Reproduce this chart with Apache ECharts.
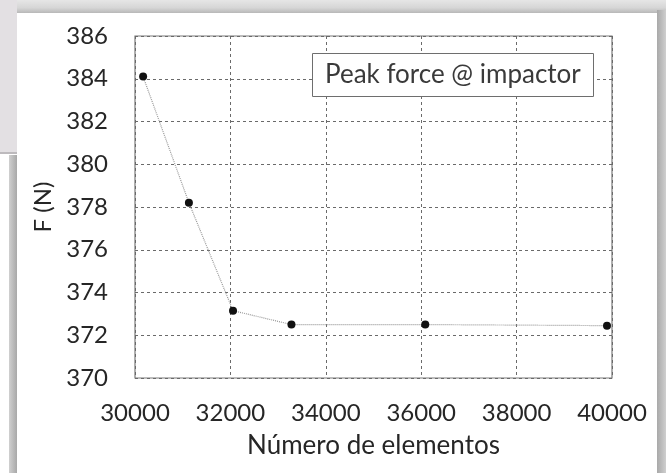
<!DOCTYPE html>
<html>
<head>
<meta charset="utf-8">
<script src="https://cdn.jsdelivr.net/npm/echarts@6/dist/echarts.min.js"></script>
<style>
  html, body { margin: 0; padding: 0; background: #fff; }
  #chart { width: 666px; height: 473px; }
</style>
</head>
<body>
<div id="chart"></div>
<script>
// Data
const elementCounts = [30170, 31130, 32055, 33280, 36085, 39895];
const peakForce = [384.1, 378.2, 373.15, 372.5, 372.5, 372.45];
const seriesName = 'Peak force @ impactor';
const xAxisTitle = 'Número de elementos';
const yAxisTitle = 'F (N)';

const FONT = 'Lato';
const TXT = '#262626';
const chart = echarts.init(document.getElementById('chart'), null, { renderer: 'canvas' });

const points = elementCounts.map((x, i) => [x, peakForce[i]]);

chart.setOption({
  backgroundColor: '#ffffff',
  animation: false,
  title: {
    text: seriesName,
    left: 312,
    top: 53,
    padding: [7, 13, 7, 13],
    borderColor: '#6e6e6e',
    borderWidth: 1,
    backgroundColor: '#ffffff',
    textStyle: { fontFamily: FONT, fontSize: 26, fontWeight: 'normal', color: '#3a3a3a', lineHeight: 30 }
  },
  graphic: [
    { type: 'rect', z: -10, shape: { x: 0, y: 0, width: 666, height: 13 },
      style: { fill: new echarts.graphic.LinearGradient(0, 0, 0, 1, [
        { offset: 0, color: '#e6e6e6' }, { offset: 0.6, color: '#d6d6d6' }, { offset: 1, color: '#b8b8b8' }]) } },
    { type: 'rect', z: -10, shape: { x: 0, y: 0, width: 17, height: 153 },
      style: { fill: '#e3e0e3' } },
    { type: 'rect', z: -10, shape: { x: 0, y: 152, width: 17, height: 2 },
      style: { fill: '#bdbabd' } },
    { type: 'rect', z: -10, shape: { x: 9, y: 155, width: 8, height: 318 },
      style: { fill: new echarts.graphic.LinearGradient(0, 0, 1, 0, [
        { offset: 0, color: '#d0d0d0' }, { offset: 1, color: '#a8a8a8' }]) } },
    { type: 'rect', z: -10, shape: { x: 657, y: 10, width: 9, height: 463 },
      style: { fill: new echarts.graphic.LinearGradient(0, 0, 1, 0, [
        { offset: 0, color: '#a9a9a9' }, { offset: 1, color: '#cfcfcf' }]) } }
  ],
  grid: {
    left: 135, right: 54, top: 36, bottom: 95,
    show: true,
    borderColor: '#7a7a7a',
    borderWidth: 1.2,
    backgroundColor: 'transparent'
  },
  xAxis: {
    type: 'value',
    min: 30000, max: 40000, interval: 2000,
    name: xAxisTitle,
    nameLocation: 'middle',
    nameGap: 55,
    nameTextStyle: { fontFamily: FONT, fontSize: 26, color: TXT },
    axisLine: { show: false },
    axisTick: { show: false },
    axisLabel: { fontFamily: FONT, fontSize: 24, color: TXT, margin: 23,
      formatter: v => String(v) },
    splitLine: { show: true, lineStyle: { color: '#6a6a6a', width: 1, type: [3, 3] } }
  },
  yAxis: {
    type: 'value',
    min: 370, max: 386, interval: 2,
    name: yAxisTitle,
    nameLocation: 'middle',
    nameGap: 78,
    nameRotate: 90,
    nameTextStyle: { fontFamily: FONT, fontSize: 24, color: TXT },
    axisLine: { show: false },
    axisTick: { show: false },
    axisLabel: { fontFamily: FONT, fontSize: 24, color: TXT, margin: 27,
      formatter: v => String(v) },
    splitLine: { show: true, lineStyle: { color: '#6a6a6a', width: 1, type: [3, 3] } }
  },
  series: [{
    name: seriesName,
    type: 'line',
    data: points,
    symbol: 'circle',
    symbolSize: 8,
    itemStyle: { color: '#111111' },
    lineStyle: { color: '#9a9a9a', width: 1.2, type: [1, 1] },
    z: 3
  }]
});
</script>
</body>
</html>
